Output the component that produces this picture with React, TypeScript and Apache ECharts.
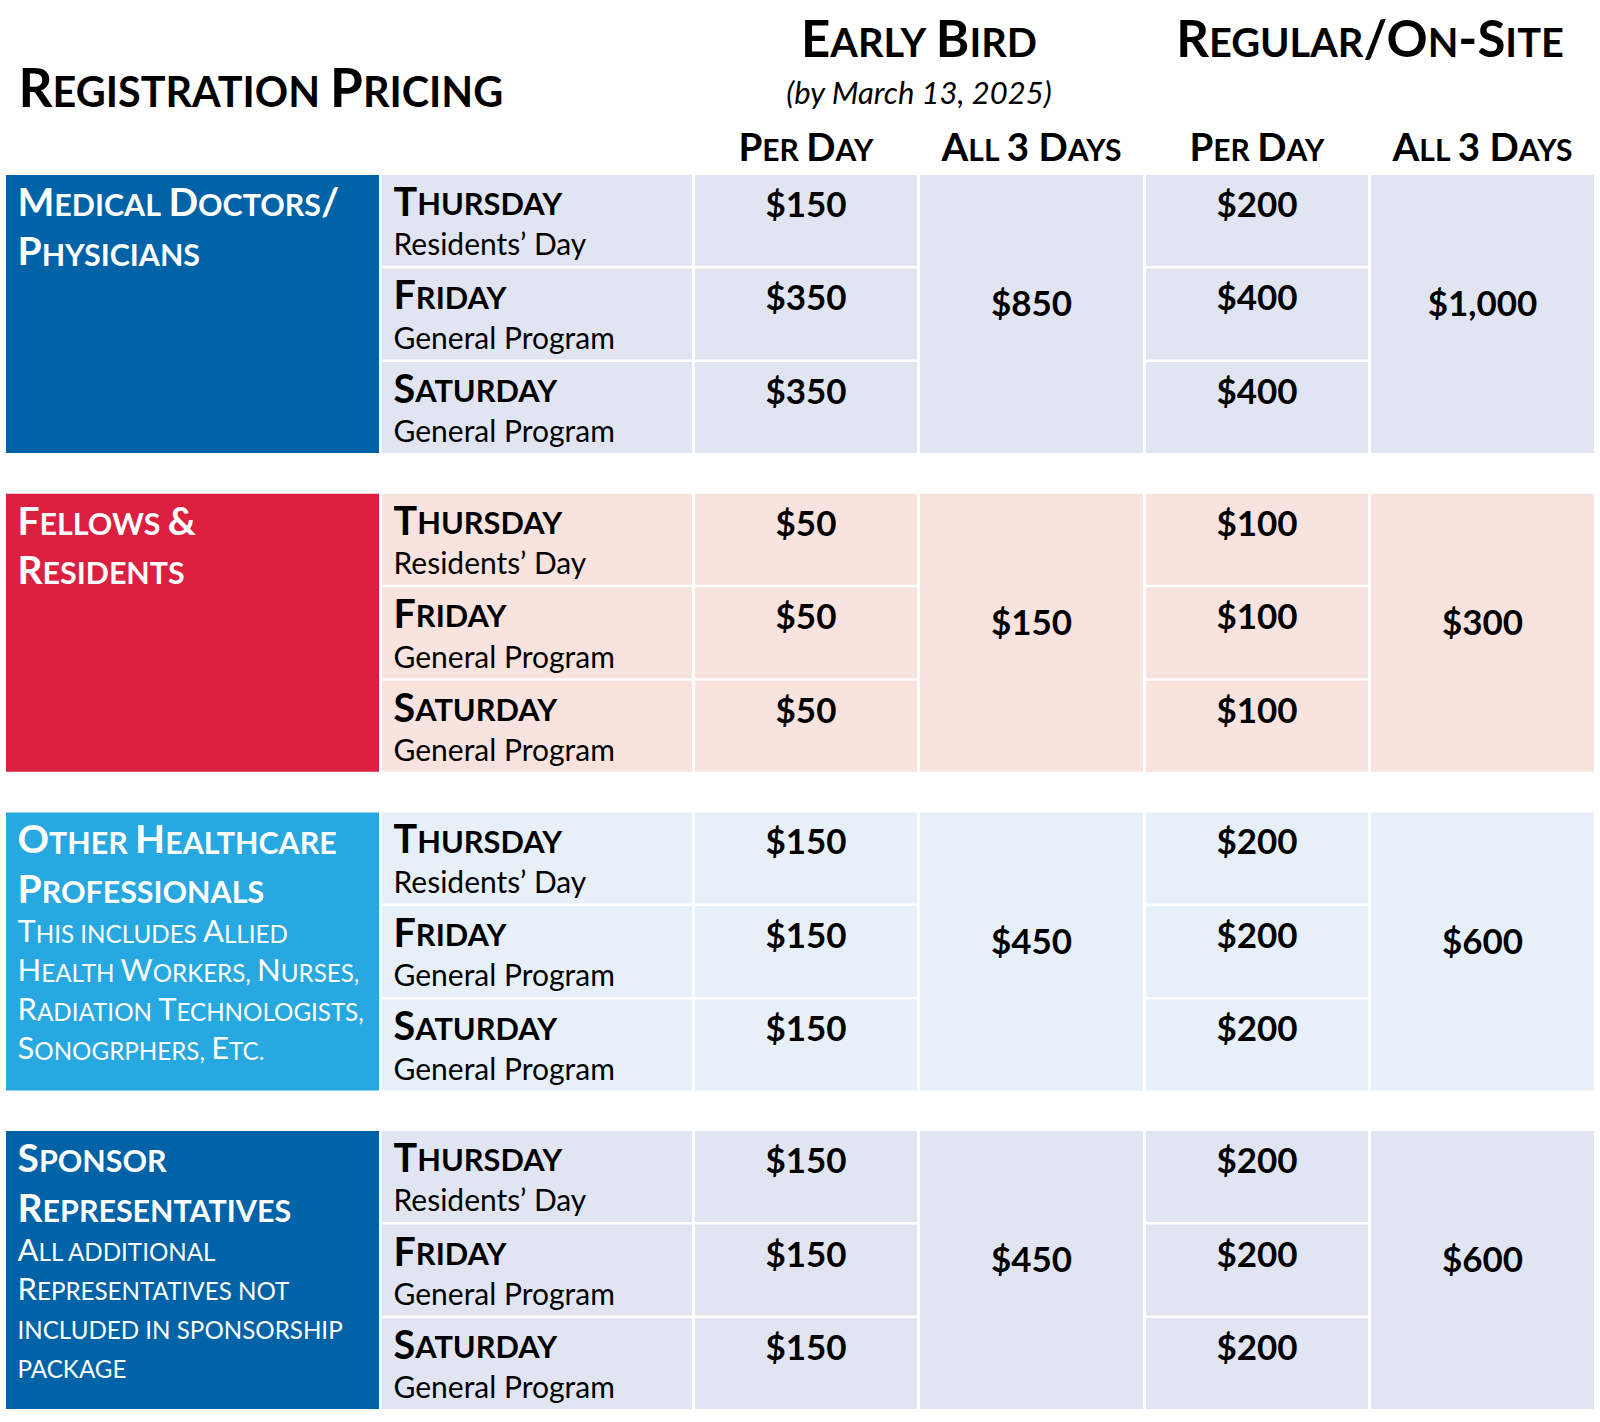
import React, { useEffect, useRef } from "react";
import * as echarts from "echarts";

// ---------- data ----------
const title = "Registration Pricing";
const periodHeaders = ["Early Bird", "Regular/On-Site"];
const periodNote = "(by March 13, 2025)";
const columnHeaders = ["Per Day", "All 3 Days", "Per Day", "All 3 Days"];
const groupNames = [
  ["Medical Doctors/", "Physicians"],
  ["Fellows &", "Residents"],
  ["Other Healthcare", "Professionals"],
  ["Sponsor", "Representatives"],
];
const groupNotes = [
  [],
  [],
  ["This includes Allied", "Health Workers, Nurses,", "Radiation Technologists,", "Sonogrphers, Etc."],
  ["All additional", "Representatives not", "included in sponsorship", "package"],
];
const days = ["Thursday", "Friday", "Saturday"];
const dayNotes = ["Residents’ Day", "General Program", "General Program"];
const earlyPerDay = [
  [150, 350, 350],
  [50, 50, 50],
  [150, 150, 150],
  [150, 150, 150],
];
const earlyAllDays = [850, 150, 450, 450];
const regularPerDay = [
  [200, 400, 400],
  [100, 100, 100],
  [200, 200, 200],
  [200, 200, 200],
];
const regularAllDays = [1000, 300, 600, 600];

// ---------- styling / layout ----------
const groupColors = ["#0063A8", "#DC1F3F", "#28A8E0", "#0063A8"];
const cellColors = ["#E1E5F2", "#F8E3DF", "#E7EFF9", "#E1E5F2"];
const COL_L = [6, 382, 695, 920, 1146, 1371];
const COL_R = [379, 692, 917, 1143, 1368, 1594];
const GROUP_TOP0 = 175;
const GROUP_PITCH = 318.7;
const ROW_PITCH = 93.5;
const ROW_H = 91;
const GROUP_H = 278;
const FONT = "Lato";
const CENTRAL = 0.387;
const SC_RATIO = 0.78;

type T = {
  text: string;
  x: number;
  base: number;
  size: number;
  bold?: boolean;
  italic?: boolean;
  sc?: boolean;
  color?: string;
  align?: string;
};
type Cell = { x0: number; y0: number; x1: number; y1: number; fill: string | null; texts: T[] };

const money = (v: number) => "$" + v.toLocaleString("en-US");

let measureCtx: CanvasRenderingContext2D | null = null;
function measure(text: string, size: number, bold: boolean) {
  if (!measureCtx) measureCtx = document.createElement("canvas").getContext("2d");
  measureCtx!.font = `${bold ? "bold" : "normal"} ${size}px ${FONT}`;
  return measureCtx!.measureText(text).width;
}

// split text into small-caps segments
function scSegments(text: string) {
  const segs: { text: string; small: boolean }[] = [];
  for (const ch of text) {
    const isLower = ch !== ch.toUpperCase();
    let small = isLower;
    if (ch === " " || ch === "," || ch === ".") small = segs.length ? segs[segs.length - 1].small : false;
    const last = segs[segs.length - 1];
    if (last && last.small === small) last.text += small ? ch.toUpperCase() : ch;
    else segs.push({ text: small ? ch.toUpperCase() : ch, small });
  }
  return segs;
}

function buildCells(): Cell[] {
  const cells: Cell[] = [];
  const head: T[] = [];
  head.push({ text: title, x: 18.5, base: 107.3, size: 53, bold: true, sc: true, align: "left" });
  const pc = [(COL_L[2] + COL_R[3]) / 2, (COL_L[4] + COL_R[5]) / 2];
  periodHeaders.forEach((h, i) =>
    head.push({ text: h, x: pc[i], base: 57, size: 51, bold: true, sc: true, align: "center" })
  );
  head.push({ text: periodNote, x: pc[0], base: 104, size: 31, italic: true, align: "center" });
  columnHeaders.forEach((h, i) =>
    head.push({
      text: h,
      x: (COL_L[i + 2] + COL_R[i + 2]) / 2,
      base: 161,
      size: 38.5,
      bold: true,
      sc: true,
      align: "center",
    })
  );
  cells.push({ x0: 0, y0: 0, x1: 1600, y1: 170, fill: null, texts: head });

  groupNames.forEach((name, g) => {
    const gt = GROUP_TOP0 + g * GROUP_PITCH;
    const catTexts: T[] = [];
    name.forEach((line, k) =>
      catTexts.push({ text: line, x: 17.5, base: gt + 41 + k * 49.5, size: 39, bold: true, sc: true, color: "#fff", align: "left" })
    );
    groupNotes[g].forEach((line, k) =>
      catTexts.push({ text: line, x: 17.5, base: gt + 130 + k * 39, size: 31, sc: true, color: "#fff", align: "left" })
    );
    cells.push({ x0: COL_L[0], y0: gt, x1: COL_R[0], y1: gt + GROUP_H, fill: groupColors[g], texts: catTexts });

    days.forEach((d, r) => {
      const rt = gt + r * ROW_PITCH;
      cells.push({
        x0: COL_L[1], y0: rt, x1: COL_R[1], y1: rt + ROW_H, fill: cellColors[g],
        texts: [
          { text: d, x: 393.5, base: rt + 40.7, size: 39.5, bold: true, sc: true, align: "left" },
          { text: dayNotes[r], x: 393.5, base: rt + 80, size: 30, align: "left" },
        ],
      });
      const per = [earlyPerDay[g][r], regularPerDay[g][r]];
      [2, 4].forEach((c, k) =>
        cells.push({
          x0: COL_L[c], y0: rt, x1: COL_R[c], y1: rt + ROW_H, fill: cellColors[g],
          texts: [{ text: money(per[k]), x: (COL_L[c] + COL_R[c]) / 2, base: rt + 41.5, size: 35, bold: true, align: "center" }],
        })
      );
    });
    const all = [earlyAllDays[g], regularAllDays[g]];
    [3, 5].forEach((c, k) =>
      cells.push({
        x0: COL_L[c], y0: gt, x1: COL_R[c], y1: gt + GROUP_H, fill: cellColors[g],
        texts: [{ text: money(all[k]), x: (COL_L[c] + COL_R[c]) / 2, base: gt + 140.8, size: 35, bold: true, align: "center" }],
      })
    );
  });
  return cells;
}

function textEl(api: any, t: T, text: string, x: number, size: number, align: string) {
  const pt = api.coord([x, t.base - CENTRAL * size]);
  return {
    type: "text",
    x: pt[0],
    y: pt[1],
    style: {
      text,
      fill: t.color || "#000000",
      fontSize: size,
      fontWeight: t.bold ? "bold" : "normal",
      fontStyle: t.italic ? "italic" : "normal",
      fontFamily: FONT,
      align,
      verticalAlign: "middle",
    },
  };
}

export default function App() {
  const ref = useRef<HTMLDivElement>(null);
  useEffect(() => {
    document.body.style.margin = "0";
    const chart = echarts.init(ref.current!, null, { renderer: "svg" });
    const cells = buildCells();
    chart.setOption({
      animation: false,
      backgroundColor: "#ffffff",
      grid: { left: 0, right: 0, top: 0, bottom: 0 },
      xAxis: { type: "value", min: 0, max: 1600, show: false },
      yAxis: { type: "value", min: 0, max: 1422, inverse: true, show: false },
      series: [
        {
          type: "custom",
          silent: true,
          clip: false,
          data: cells.map((c) => [c.x0, c.y0, c.x1, c.y1]),
          renderItem: (params: any, api: any) => {
            const c = cells[params.dataIndex];
            const p0 = api.coord([api.value(0), api.value(1)]);
            const p1 = api.coord([api.value(2), api.value(3)]);
            const children: any[] = [];
            if (c.fill) {
              children.push({
                type: "rect",
                shape: { x: p0[0], y: p0[1], width: p1[0] - p0[0], height: p1[1] - p0[1] },
                style: { fill: c.fill },
              });
            }
            c.texts.forEach((t) => {
              if (!t.sc) {
                children.push(textEl(api, t, t.text, t.x, t.size, t.align || "left"));
                return;
              }
              const segs = scSegments(t.text).map((s) => {
                const size = s.small ? t.size * SC_RATIO : t.size;
                return { text: s.text, size, w: measure(s.text, size, !!t.bold) };
              });
              const total = segs.reduce((a, s) => a + s.w, 0);
              let x = t.align === "center" ? t.x - total / 2 : t.x;
              segs.forEach((s) => {
                children.push(textEl(api, t, s.text, x, s.size, "left"));
                x += s.w;
              });
            });
            return { type: "group", children };
          },
        },
      ],
    });
    return () => chart.dispose();
  }, []);
  return <div ref={ref} style={{ width: 1600, height: 1422 }} />;
}
